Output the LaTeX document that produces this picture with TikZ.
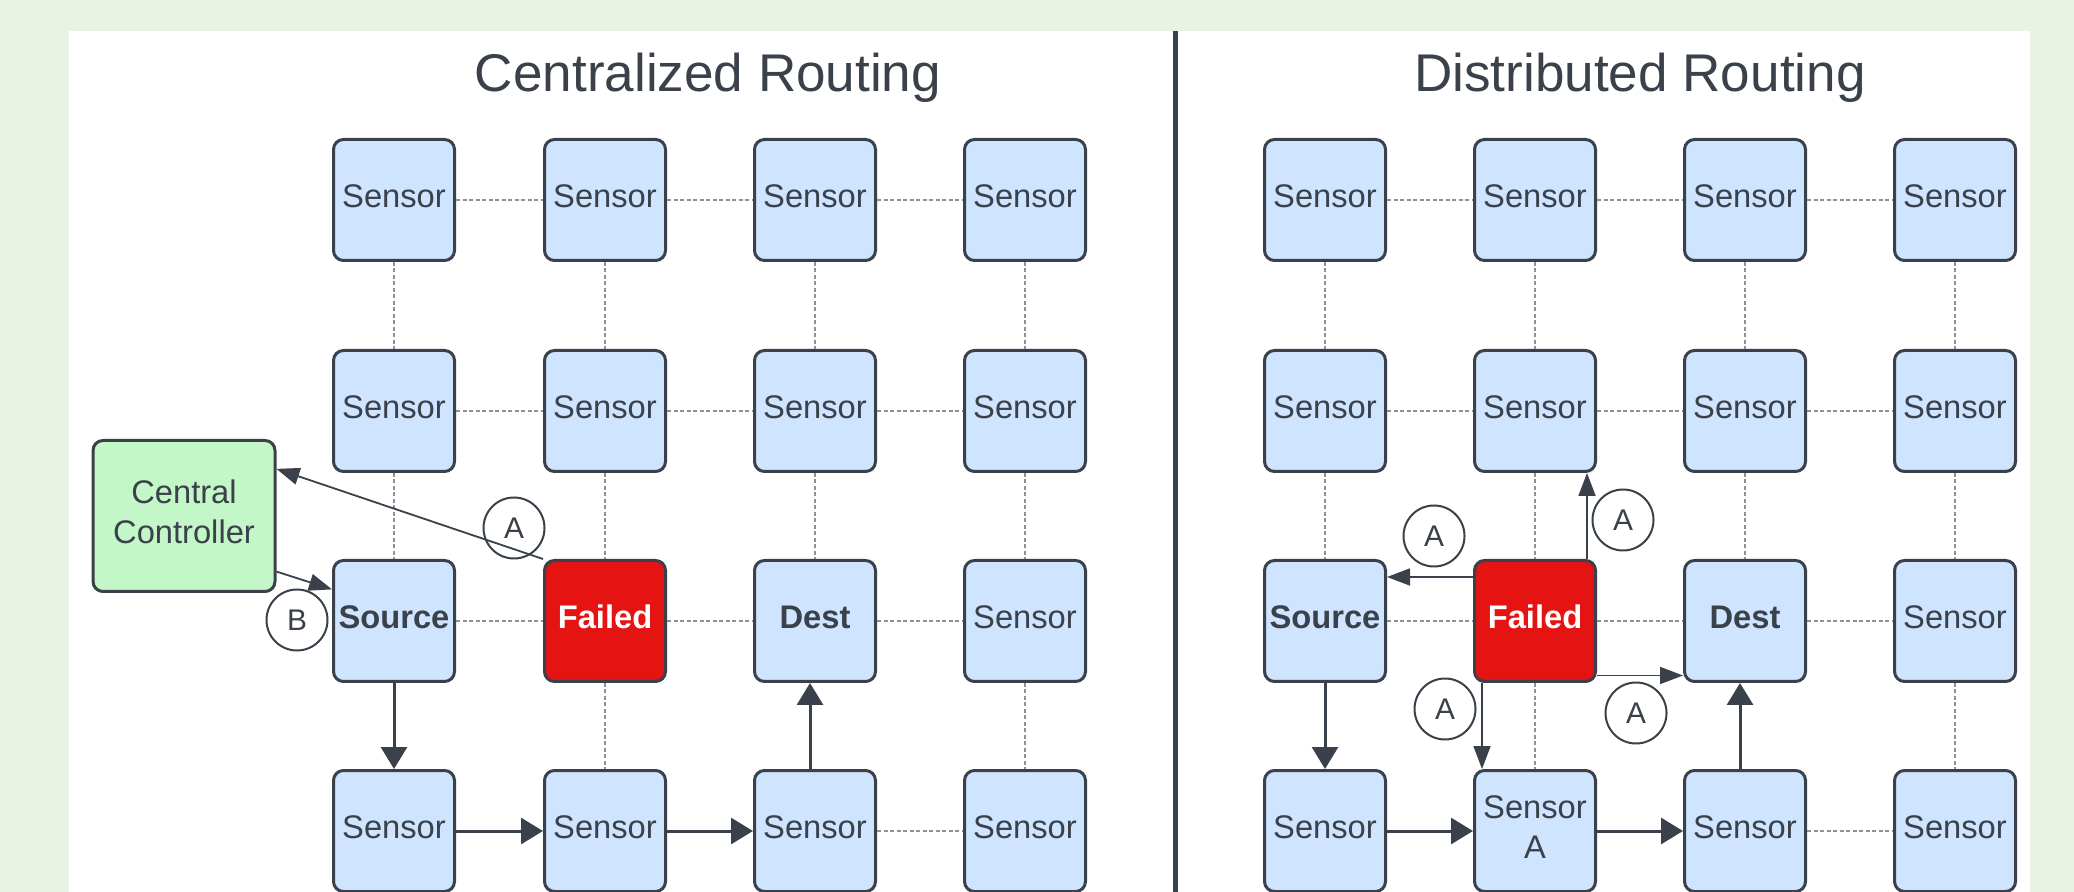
\documentclass[tikz,border=0pt]{standalone}
\usepackage{fontspec}
\setmainfont{Liberation Sans}
\usepackage{tikz}
\usetikzlibrary{arrows.meta,shapes,positioning}
\usepackage{xcolor}
\definecolor{bggreen}{RGB}{234,243,227}
\definecolor{ink}{RGB}{58,65,74}
\definecolor{sensorblue}{RGB}{207,228,255}
\definecolor{failred}{RGB}{230,19,19}
\definecolor{ctrlgreen}{RGB}{195,247,200}
\definecolor{linkgray}{RGB}{140,145,151}
\tikzstyle{sensor} = [draw=ink, line width=0.3mm, rounded corners=1mm, fill=sensorblue, minimum width=12.1mm, minimum height=12.1mm, inner sep=0.5mm, align=center, text=ink, text depth=2.3pt, font=\fontsize{9.3}{11.4}\selectfont]
\tikzstyle{failed} = [sensor, fill=failred, text=white, font=\fontsize{9.3}{11.4}\selectfont\bfseries]
\tikzstyle{ctrl} = [sensor, fill=ctrlgreen, minimum width=18.2mm, minimum height=15.1mm]
\tikzstyle{tag} = [circle, draw=ink, line width=0.2mm, minimum size=6.1mm, inner sep=0pt, text=ink, font=\fontsize{8.5}{10}\selectfont]
\tikzstyle{link} = [draw=linkgray, line width=0.35pt, dash pattern=on 0.4mm off 0.25mm]
\tikzstyle{flow} = [draw=ink, line width=0.3mm, -{Triangle[length=2.2mm,width=2.6mm]}]
\tikzstyle{msg} = [draw=ink, line width=0.18mm, -{Triangle[length=2.3mm,width=1.7mm]}]

\begin{document}
\begin{tikzpicture}[x=0.1mm, y=-0.1mm]
\useasboundingbox (0,0) rectangle (2074,892);
\fill[bggreen] (0,0) rectangle (2074,892);
\fill[white] (69,31) rectangle (2030,892);
\draw[ink, line width=0.5mm] (1175,31) -- (1175,892);

% Titles
\node[anchor=base, text=ink, font=\fontsize{15.1}{18}\selectfont] (ctitle) at (708,92) {Centralized Routing};
\node[anchor=base, text=ink, font=\fontsize{15.1}{18}\selectfont] (dtitle) at (1640,92) {Distributed Routing};

% Centralized grid
\node[sensor] (c11) at (394,200) {Sensor};
\node[sensor] (c12) at (605,200) {Sensor};
\node[sensor] (c13) at (815,200) {Sensor};
\node[sensor] (c14) at (1025,200) {Sensor};
\node[sensor] (c21) at (394,411) {Sensor};
\node[sensor] (c22) at (605,411) {Sensor};
\node[sensor] (c23) at (815,411) {Sensor};
\node[sensor] (c24) at (1025,411) {Sensor};
\node[sensor] (c31) at (394,621) {\textbf{Source}};
\node[failed] (c32) at (605,621) {Failed};
\node[sensor] (c33) at (815,621) {\textbf{Dest}};
\node[sensor] (c34) at (1025,621) {Sensor};
\node[sensor] (c41) at (394,831) {Sensor};
\node[sensor] (c42) at (605,831) {Sensor};
\node[sensor] (c43) at (815,831) {Sensor};
\node[sensor] (c44) at (1025,831) {Sensor};
\node[ctrl] (ctrl) at (184,516) {Central\\Controller};

\draw[link] (c11) -- (c12) (c12) -- (c13) (c13) -- (c14);
\draw[link] (c21) -- (c22) (c22) -- (c23) (c23) -- (c24);
\draw[link] (c31) -- (c32) (c32) -- (c33) (c33) -- (c34);
\draw[link] (c43) -- (c44);
\draw[link] (c11) -- (c21) (c12) -- (c22) (c13) -- (c23) (c14) -- (c24);
\draw[link] (c21) -- (c31) (c22) -- (c32) (c23) -- (c33) (c24) -- (c34);
\draw[link] (c32) -- (c42) (c34) -- (c44);

\draw[flow] (c31) -- (c41);
\draw[flow] (c41) -- (c42);
\draw[flow] (c42) -- (c43);
\draw[flow] ([xshift=-0.5mm]c43.north) -- ([xshift=-0.5mm]c33.south);

\draw[msg] (c32.north west) -- (ctrl.27);
\draw[msg] (ctrl.-31) -- (c31.153);
\node[tag] (ca) at (514,528) {A};
\node[tag] (cb) at (297,620) {B};

% Distributed grid
\node[sensor] (d11) at (1325,200) {Sensor};
\node[sensor] (d12) at (1535,200) {Sensor};
\node[sensor] (d13) at (1745,200) {Sensor};
\node[sensor] (d14) at (1955,200) {Sensor};
\node[sensor] (d21) at (1325,411) {Sensor};
\node[sensor] (d22) at (1535,411) {Sensor};
\node[sensor] (d23) at (1745,411) {Sensor};
\node[sensor] (d24) at (1955,411) {Sensor};
\node[sensor] (d31) at (1325,621) {\textbf{Source}};
\node[failed] (d32) at (1535,621) {Failed};
\node[sensor] (d33) at (1745,621) {\textbf{Dest}};
\node[sensor] (d34) at (1955,621) {Sensor};
\node[sensor] (d41) at (1325,831) {Sensor};
\node[sensor] (d42) at (1535,831) {Sensor\\A};
\node[sensor] (d43) at (1745,831) {Sensor};
\node[sensor] (d44) at (1955,831) {Sensor};

\draw[link] (d11) -- (d12) (d12) -- (d13) (d13) -- (d14);
\draw[link] (d21) -- (d22) (d22) -- (d23) (d23) -- (d24);
\draw[link] (d31) -- (d32) (d32) -- (d33) (d33) -- (d34);
\draw[link] (d43) -- (d44);
\draw[link] (d11) -- (d21) (d12) -- (d22) (d13) -- (d23) (d14) -- (d24);
\draw[link] (d21) -- (d31) (d22) -- (d32) (d23) -- (d33) (d24) -- (d34);
\draw[link] (d32) -- (d42) (d34) -- (d44);

\draw[flow] (d31) -- (d41);
\draw[flow] (d41) -- (d42);
\draw[flow] (d42) -- (d43);
\draw[flow] ([xshift=-0.5mm]d43.north) -- ([xshift=-0.5mm]d33.south);

\draw[msg] ([xshift=-1mm]d32.north east) -- ([xshift=-1mm]d22.south east);
\draw[msg] ([yshift=-1.8mm]d32.north west) -- ([yshift=-1.8mm]d31.north east);
\draw[msg] ([xshift=0.9mm]d32.south west) -- ([xshift=0.9mm]d42.north west);
\draw[msg] ([yshift=0.75mm]d32.south east) -- ([yshift=0.75mm]d33.south west);
\node[tag] (da1) at (1623,520) {A};
\node[tag] (da2) at (1434,536) {A};
\node[tag] (da3) at (1445,709) {A};
\node[tag] (da4) at (1636,713) {A};
\end{tikzpicture}
\end{document}
